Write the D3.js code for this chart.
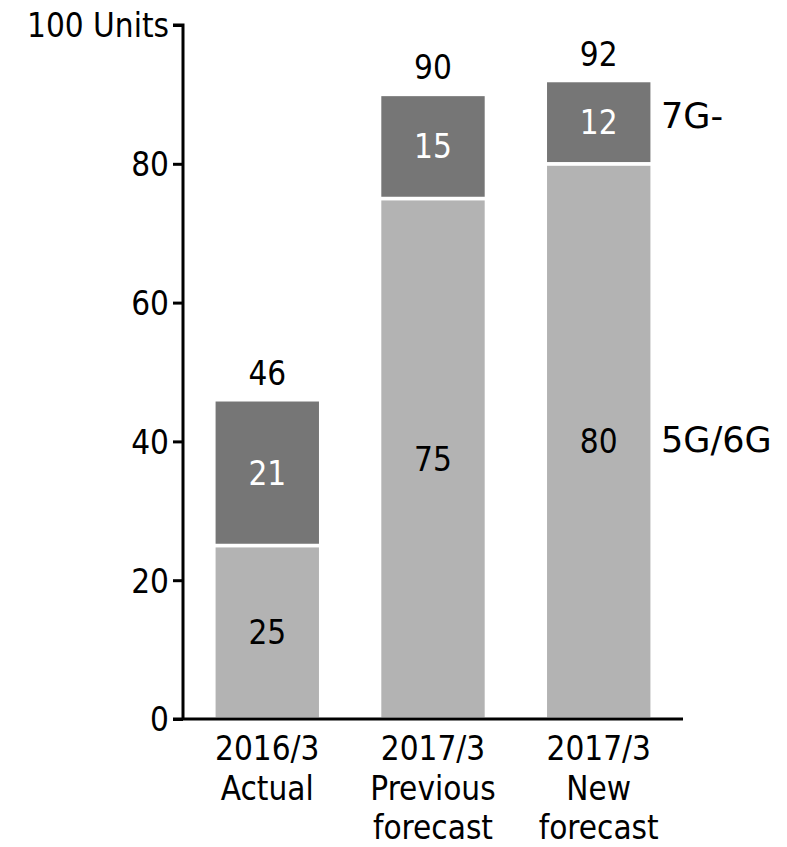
<!DOCTYPE html>
<html><head><meta charset="utf-8">
<script src="https://cdn.jsdelivr.net/npm/d3@7"></script>
<style>body{margin:0;background:#fff}svg text{font-family:"DejaVu Sans Condensed","DejaVu Sans",sans-serif;font-stretch:condensed}svg text.wide{font-family:"DejaVu Sans",sans-serif;font-stretch:normal}</style>
</head><body><svg id="c" width="787" height="847"></svg>
<script>
const categories = [["2016/3","Actual"],["2017/3","Previous","forecast"],["2017/3","New","forecast"]];
const lowerSeries = [25, 75, 80];   // 5G/6G
const upperSeries = [21, 15, 12];   // 7G-
const totals = [46, 90, 92];
const seriesNames = ["5G/6G", "7G-"];
const yTicks = [0, 20, 40, 60, 80, 100];

const svg = d3.select("#c");
const fs = 33;
const y = d3.scaleLinear().domain([0, 100]).range([719, 25]);
const x = d3.scaleBand().domain(d3.range(categories.length)).range([184, 682]).paddingInner(0.355).paddingOuter(0.18);

const colors = ["#b3b3b3", "#767676"];
const stacks = [lowerSeries, upperSeries];

// bars
stacks.forEach((vals, si) => {
  vals.forEach((v, i) => {
    const base = si === 0 ? 0 : lowerSeries[i];
    svg.append("rect")
      .attr("x", x(i)).attr("width", x.bandwidth())
      .attr("y", y(base + v)).attr("height", y(base) - y(base + v))
      .attr("fill", colors[si]).attr("stroke", "#fff").attr("stroke-width", 3.5);
    svg.append("text")
      .attr("x", x(i) + x.bandwidth() / 2)
      .attr("y", (y(base) + y(base + v)) / 2 + fs * 0.36)
      .attr("text-anchor", "middle").attr("font-size", fs)
      .attr("fill", si === 0 ? "#000" : "#fff")
      .text(v);
  });
});

// totals
totals.forEach((t, i) => {
  svg.append("text").attr("x", x(i) + x.bandwidth() / 2).attr("y", y(t) - 15)
    .attr("text-anchor", "middle").attr("font-size", fs).text(t);
});

// series labels
const last = categories.length - 1;
svg.append("text").attr("class", "wide").attr("x", 661)
  .attr("y", (y(lowerSeries[last]) + y(0)) / 2 + 11)
  .attr("font-size", 35).text(seriesNames[0]);
svg.append("text").attr("class", "wide").attr("x", 661)
  .attr("y", (y(totals[last]) + y(lowerSeries[last])) / 2 + 6)
  .attr("font-size", 35).text(seriesNames[1]);

// y axis
const yAxis = d3.axisLeft(y).tickValues(yTicks).tickSize(10).tickPadding(4)
  .tickFormat(d => d === 100 ? "100 Units" : d);
const gy = svg.append("g").attr("transform", "translate(183,0)").call(yAxis);
gy.select(".domain").attr("stroke", "#000").attr("stroke-width", 3).attr("d", "M-10,25H0V719");
gy.selectAll(".tick line").attr("stroke", "#000").attr("stroke-width", 3);
gy.selectAll(".tick text").attr("font-size", fs).attr("fill", "#000")
  .attr("font-family", null).attr("dy", "0.36em");

// x axis line
svg.append("line").attr("x1", 173).attr("x2", 683).attr("y1", 719).attr("y2", 719)
  .attr("stroke", "#000").attr("stroke-width", 3);

// x labels
categories.forEach((lines, i) => {
  const t = svg.append("text").attr("text-anchor", "middle").attr("font-size", fs);
  lines.forEach((l, k) => {
    t.append("tspan").attr("x", x(i) + x.bandwidth() / 2).attr("y", 760 + k * 39.5).text(l);
  });
});
</script></body></html>
